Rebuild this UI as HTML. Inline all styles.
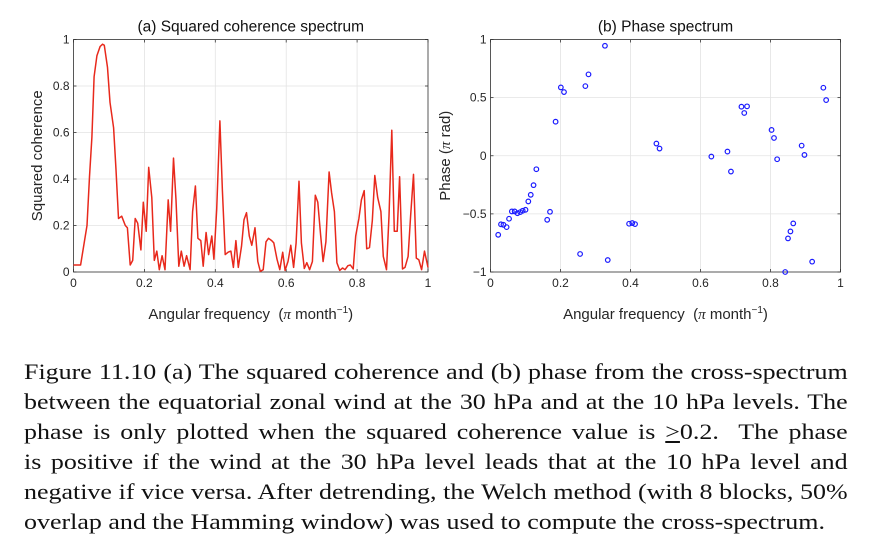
<!DOCTYPE html>
<html><head><meta charset="utf-8"><style>
body{margin:0;width:886px;height:536px;background:#fff;overflow:hidden;position:relative;font-family:"Liberation Sans",sans-serif}
svg{position:absolute;left:0;top:0}
.cap{position:absolute;left:24px;width:698px;transform:scaleX(1.18);transform-origin:0 0;font-family:"Liberation Serif",serif;font-size:22px;color:#111;white-space:nowrap}
.cap div{height:30px;line-height:30px;text-align:justify;text-align-last:justify}
.cap div.last{text-align-last:left}
</style></head><body>
<svg id="chart" width="886" height="340"></svg>
<div class="cap" style="top:357px">
<div>Figure 11.10 (a) The squared coherence and (b) phase from the cross-spectrum</div>
<div>between the equatorial zonal wind at the 30 hPa and at the 10 hPa levels. The</div>
<div>phase is only plotted when the squared coherence value is <u>&gt;</u>0.2.&nbsp; The phase</div>
<div>is positive if the wind at the 30 hPa level leads that at the 10 hPa level and</div>
<div>negative if vice versa. After detrending, the Welch method (with 8 blocks, 50%</div>
<div class="last">overlap and the Hamming window) was used to compute the cross-spectrum.</div>
</div>
<script>
const cohFreq=[0,0.02,0.038,0.045,0.052,0.058,0.066,0.075,0.082,0.087,0.096,0.103,0.113,0.12,0.127,0.136,0.146,0.152,0.16,0.167,0.174,0.181,0.19,0.197,0.205,0.212,0.221,0.228,0.235,0.242,0.25,0.258,0.267,0.274,0.282,0.289,0.297,0.304,0.312,0.319,0.329,0.336,0.344,0.351,0.359,0.366,0.374,0.381,0.39,0.396,0.404,0.413,0.42,0.428,0.436,0.444,0.451,0.458,0.465,0.474,0.481,0.488,0.496,0.503,0.512,0.52,0.527,0.535,0.543,0.55,0.559,0.565,0.574,0.582,0.59,0.597,0.605,0.613,0.621,0.628,0.636,0.643,0.651,0.658,0.666,0.674,0.682,0.689,0.697,0.704,0.712,0.721,0.728,0.736,0.743,0.751,0.759,0.766,0.774,0.781,0.789,0.796,0.805,0.812,0.82,0.827,0.835,0.843,0.85,0.858,0.867,0.874,0.883,0.89,0.898,0.905,0.913,0.92,0.928,0.935,0.944,0.951,0.959,0.967,0.974,0.982,0.99,1];
const cohVals=[0.03,0.03,0.2,0.41,0.58,0.84,0.93,0.97,0.98,0.975,0.88,0.73,0.62,0.44,0.23,0.24,0.2,0.19,0.03,0.05,0.23,0.21,0.095,0.3,0.175,0.45,0.32,0.05,0.09,0.01,0.07,0.01,0.31,0.175,0.49,0.31,0.025,0.09,0.025,0.07,0.01,0.26,0.37,0.145,0.135,0.025,0.17,0.075,0.155,0.055,0.27,0.65,0.35,0.075,0.085,0.09,0.02,0.135,0.02,0.11,0.225,0.255,0.155,0.115,0.19,0.045,0.003,0.01,0.13,0.145,0.135,0.125,0.055,0.01,0.085,0.007,0.045,0.115,0.02,0.125,0.39,0.125,0.015,0.04,0.01,0.045,0.33,0.3,0.16,0.045,0.13,0.43,0.34,0.26,0.04,0.007,0.017,0.01,0.027,0.03,0.013,0.155,0.23,0.31,0.35,0.1,0.105,0.22,0.415,0.32,0.26,0.067,0.01,0.24,0.61,0.175,0.175,0.41,0.013,0.02,0.067,0.24,0.42,0.06,0.053,0.01,0.09,0.02];
const phFreq=[0.022,0.03,0.037,0.046,0.053,0.061,0.069,0.077,0.085,0.092,0.1,0.108,0.115,0.123,0.131,0.162,0.17,0.186,0.201,0.21,0.256,0.271,0.28,0.327,0.335,0.396,0.405,0.413,0.474,0.483,0.631,0.677,0.687,0.717,0.725,0.733,0.803,0.81,0.819,0.842,0.85,0.857,0.865,0.889,0.897,0.919,0.951,0.959];
const phVals=[-0.68,-0.59,-0.594,-0.614,-0.542,-0.479,-0.479,-0.494,-0.485,-0.473,-0.465,-0.393,-0.336,-0.253,-0.116,-0.551,-0.482,0.293,0.588,0.548,-0.845,0.599,0.7,0.946,-0.897,-0.585,-0.579,-0.588,0.105,0.062,-0.007,0.036,-0.136,0.422,0.368,0.425,0.222,0.153,-0.03,-1.0,-0.711,-0.651,-0.582,0.087,0.007,-0.911,0.585,0.479];
const xTicks=[0,0.2,0.4,0.6,0.8,1];
const xTickLabels=["0","0.2","0.4","0.6","0.8","1"];
const cohTicks=[0,0.2,0.4,0.6,0.8,1];
const cohTickLabels=["0","0.2","0.4","0.6","0.8","1"];
const phTicks=[-1,-0.5,0,0.5,1];
const phTickLabels=["\u22121","\u22120.5","0","0.5","1"];

const svg=document.getElementById('chart');
const NS='http://www.w3.org/2000/svg';
function mk(tag,attrs,parent){const e=document.createElementNS(NS,tag);for(const k in attrs)e.setAttribute(k,attrs[k]);(parent||svg).appendChild(e);return e;}

function panel(opt){
  const g=mk('g',{});
  
  
  const L=opt.L,R=opt.R,T=opt.T,B=opt.B;
  const sx=v=>L+(v-opt.x0)/(opt.x1-opt.x0)*(R-L);
  const sy=v=>B-(v-opt.y0)/(opt.y1-opt.y0)*(B-T);
  xTicks.forEach((t,i)=>{
    const gl=mk('line',{x1:sx(t),x2:sx(t),y1:T,y2:B,stroke:'#e3e3e3','stroke-width':0.8},g);
    
    mk('line',{x1:sx(t),x2:sx(t),y1:B,y2:B-3,stroke:'#333','stroke-width':0.8},g);
    mk('line',{x1:sx(t),x2:sx(t),y1:T,y2:T+3,stroke:'#333','stroke-width':0.8},g);
    const tx=mk('text',{x:sx(t),y:B+15,'text-anchor':'middle','font-size':12,fill:'#262626'},g);
    tx.textContent=xTickLabels[i];
    
  });
  opt.yt.forEach((t,i)=>{
    const gl=mk('line',{x1:L,x2:R,y1:sy(t),y2:sy(t),stroke:'#e3e3e3','stroke-width':0.8},g);
    
    mk('line',{x1:L,x2:L+3,y1:sy(t),y2:sy(t),stroke:'#333','stroke-width':0.8},g);
    mk('line',{x1:R,x2:R-3,y1:sy(t),y2:sy(t),stroke:'#333','stroke-width':0.8},g);
    const tx=mk('text',{x:L-4,y:sy(t)+4,'text-anchor':'end','font-size':12,fill:'#262626'},g);
    tx.textContent=opt.ytl[i];
    
  });
  const fr=mk('rect',{x:L,y:T,width:R-L,height:B-T,fill:'none',stroke:'#333','stroke-width':0.8},g);
  
  const ti=mk('text',{x:(L+R)/2,y:T-8,'text-anchor':'middle','font-size':15.5,fill:'#111'},g);
  ti.textContent=opt.title;
  
  const xl=mk('text',{x:(L+R)/2,y:B+47,'text-anchor':'middle','font-size':15,fill:'#262626'},g);
  xl.innerHTML='Angular frequency&#160;&#160;(<tspan font-family="Liberation Serif" font-style="italic">\u03c0</tspan> month<tspan dy="-6" font-size="10">\u22121</tspan><tspan dy="6">)</tspan>';
  
  const yl=mk('text',{x:0,y:0,'text-anchor':'middle','font-size':15,fill:'#262626',transform:`translate(${opt.ylx},${(T+B)/2}) rotate(-90)`},g);
  yl.innerHTML=opt.ylabel;
  
  return {g,sx,sy};
}

const a=panel({name:'coherence-chart',L:73.5,R:428,T:39.5,B:272,x0:0,x1:1,y0:0,y1:1,yt:cohTicks,ytl:cohTickLabels,title:'(a)  Squared coherence spectrum',ylabel:'Squared coherence',ylx:42});
const pts=cohFreq.map((f,i)=>a.sx(f).toFixed(1)+','+a.sy(cohVals[i]).toFixed(1)).join(' ');
const line=mk('polyline',{points:pts,fill:'none',stroke:'#e8291c','stroke-width':1.5,'stroke-linejoin':'round'},a.g);



const b=panel({name:'phase-chart',L:490.5,R:840.5,T:39.5,B:272,x0:0,x1:1,y0:-1,y1:1,yt:phTicks,ytl:phTickLabels,title:'(b)  Phase spectrum',ylabel:'Phase (<tspan font-family="Liberation Serif" font-style="italic">\u03c0</tspan> rad)',ylx:450});
phFreq.forEach((f,i)=>{
  const c=mk('circle',{cx:b.sx(f),cy:b.sy(phVals[i]),r:2.3,fill:'none',stroke:'#1a1aff','stroke-width':1.2},b.g);
  
  
});
</script>
</body></html>
